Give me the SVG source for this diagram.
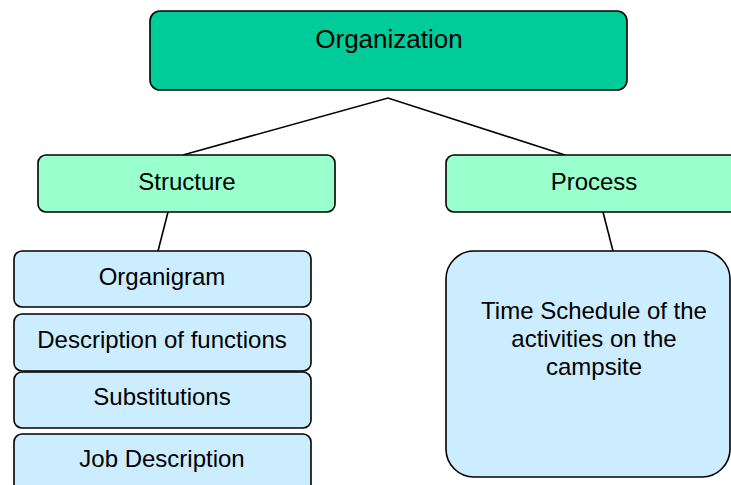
<svg xmlns="http://www.w3.org/2000/svg" width="731" height="485" viewBox="0 0 731 485">
  <style>
    .box { stroke: #000; stroke-width: 1.6; }
    .root { fill: #00CC99; }
    .branch { fill: #99FFCC; }
    .leaf { fill: #CCECFF; }
    .label { font-family: "Liberation Sans", Arial, sans-serif; font-size: 24px; fill: #000; text-anchor: middle; }
    .edge { stroke: #000; stroke-width: 1.6; fill: none; }
  </style>
  <rect width="731" height="485" fill="#fff"/>

  <g id="connectors">
    <polyline class="edge" points="183,155 388,98 565,155"/>
    <line class="edge" x1="168" y1="212" x2="158" y2="251"/>
    <line class="edge" x1="603" y1="212" x2="613" y2="251"/>
  </g>

  <g id="organization">
    <rect class="box root" x="150" y="11" width="477" height="79" rx="10"/>
    <text class="label" x="389" y="48" style="font-size:26px">Organization</text>
  </g>

  <g id="structure">
    <rect class="box branch" x="38" y="155" width="297" height="57" rx="8"/>
    <text class="label" x="187" y="190">Structure</text>
  </g>

  <g id="process">
    <rect class="box branch" x="446" y="155" width="300" height="57" rx="8"/>
    <text class="label" x="594" y="190">Process</text>
  </g>

  <g id="organigram">
    <rect class="box leaf" x="14" y="251" width="297" height="56" rx="8"/>
    <text class="label" x="162" y="285">Organigram</text>
  </g>

  <g id="description-of-functions">
    <rect class="box leaf" x="14" y="314" width="297" height="57" rx="8"/>
    <text class="label" x="162" y="348">Description of functions</text>
  </g>

  <g id="substitutions">
    <rect class="box leaf" x="14" y="372" width="297" height="56" rx="8"/>
    <text class="label" x="162" y="405">Substitutions</text>
  </g>

  <g id="job-description">
    <rect class="box leaf" x="14" y="434" width="297" height="60" rx="8"/>
    <text class="label" x="162" y="467">Job Description</text>
  </g>

  <g id="time-schedule">
    <rect class="box leaf" x="446" y="251" width="284" height="226" rx="28"/>
    <text class="label" x="594" y="319">Time Schedule of the</text>
    <text class="label" x="594" y="347">activities on the</text>
    <text class="label" x="594" y="375">campsite</text>
  </g>
</svg>
